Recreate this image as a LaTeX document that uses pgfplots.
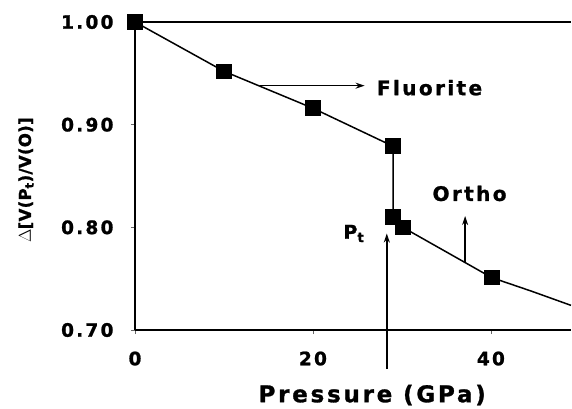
\documentclass[border=0pt]{standalone}
\usepackage{fontspec}
\setmainfont{DejaVu Sans}[LetterSpace=12, BoldFeatures={FakeBold=1.2}]
\newfontfamily\ylabfont{DejaVu Sans}[LetterSpace=2, BoldFeatures={FakeBold=1.2}]
\usepackage{pgfplots}
\pgfplotsset{compat=1.18}
\usetikzlibrary{arrows.meta}
\begin{document}
\begin{tikzpicture}
\begin{axis}[
  scale only axis, width=436pt, height=308pt,
  xmin=0, xmax=49, ymin=0.70, ymax=1.00,
  axis x line*=bottom, axis y line*=left,
  axis line style={line width=1.6pt, -},
  xtick={0,20,40}, ytick={0.70,0.80,0.90,1.00},
  tick align=outside, major tick length=4pt,
  tick style={line width=0.6pt, black!60},
  /pgf/number format/assume math mode=true,
  yticklabel={\pgfmathprintnumber[fixed,fixed zerofill,precision=2]{\tick}},
  ticklabel style={font=\fontsize{18.5}{20}\selectfont\bfseries},
  yticklabel style={xshift=-14pt},
  xticklabel style={yshift=-14pt},
  clip=false,
]
\addplot[black, line width=1.5pt, mark=square*, mark size=7pt, mark options={solid}] coordinates {
  (0,1.000) (10,0.952) (20,0.916) (29,0.879) (29,0.810) (30.1,0.800) (40.1,0.751)
};
\addplot[black, line width=1.5pt, no marks] coordinates {
  (40.1,0.751) (44.5,0.738) (49,0.724)
};
\draw[line width=1.6pt] (rel axis cs:0,1) -- (rel axis cs:1,1);
\draw[line width=1.5pt, -{Stealth[length=9pt,width=6pt]}] (axis cs:14.0,0.938) -- (axis cs:25.8,0.938);
\node[font=\fontsize{20}{22}\selectfont\bfseries, anchor=west] at (axis cs:26.8,0.936) {Fluorite};
\draw[line width=1.5pt, -{Stealth[length=9pt,width=6pt]}] (axis cs:37.1,0.765) -- (axis cs:37.1,0.811);
\node[font=\fontsize{20}{22}\selectfont\bfseries] at (axis cs:37.6,0.833) {Ortho};
\draw[line width=1.5pt, -{Stealth[length=9pt,width=6pt]}] (axis cs:28.3,0.662) -- (axis cs:28.3,0.794);
\node[font=\fontsize{19}{20}\selectfont\bfseries] at (axis cs:24.6,0.794) {P\textsubscript{t}};
\node[font=\fontsize{23}{26}\selectfont\bfseries] at ([yshift=-65pt]rel axis cs:0.544,0) {Pressure (GPa)};
\node[font=\ylabfont\fontsize{16.5}{19}\selectfont\bfseries, rotate=90] at ([xshift=-109pt]rel axis cs:0,0.487) {$\Delta$[V(P\textsubscript{t})/V(O)]};
\end{axis}
\pgfresetboundingbox
\useasboundingbox (-135pt,-78pt) rectangle (437pt,330pt);
\end{tikzpicture}
\end{document}
